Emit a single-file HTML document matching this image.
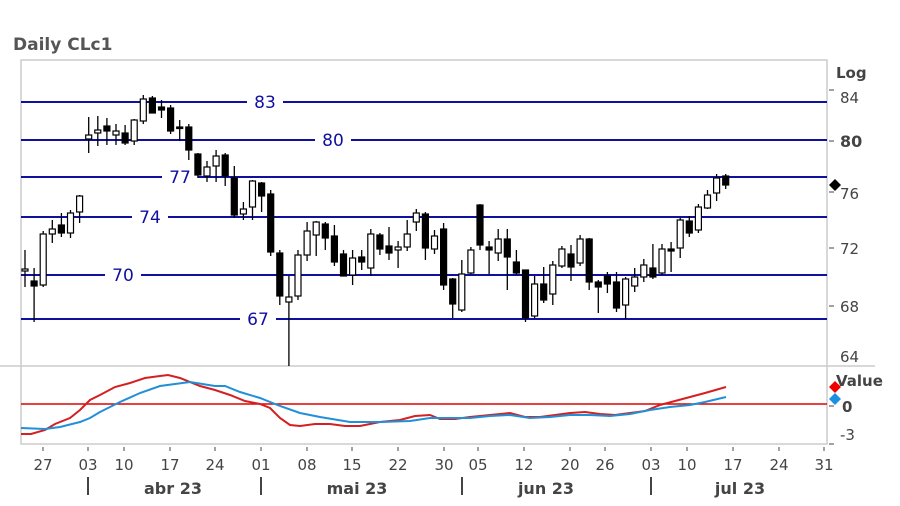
<!DOCTYPE html>
<html><head><meta charset="utf-8"><style>
body{margin:0;background:#fff;}
svg{display:block;font-family:"DejaVu Sans","Liberation Sans",sans-serif;}
</style></head><body>
<svg id="s" width="900" height="506" viewBox="0 0 900 506">
<text x="13" y="50" font-size="17" font-weight="bold" fill="#555">Daily CLc1</text>
<rect x="21" y="60" width="806" height="384" fill="none" stroke="#ccc" stroke-width="1.5"/>
<line x1="0" y1="366" x2="875" y2="366" stroke="#ccc" stroke-width="1.5"/>
<g id="lv" stroke="#1010a0" stroke-width="2"></g>
<g id="c"></g>
<line x1="21" y1="404" x2="827" y2="404" stroke="#d00" stroke-width="1.5"/>
<polyline fill="none" stroke="#d42020" stroke-width="2" points="21,434 31,434 45,430 55,424 70,418 80,410 90,400 100,395 115,387 130,383 145,378 160,376 168,375 180,378 200,386 215,390 230,395 245,401 260,404 270,408 280,418 290,425 300,426 315,424 330,424 345,426 360,426 380,422 400,420 415,416 430,415 440,419 455,419 470,417 490,415 510,413 525,417 540,417 555,415 570,413 585,412 600,414 615,415 630,413 645,411 660,405 675,401 690,397 705,393 726,387"/>
<polyline fill="none" stroke="#2090d8" stroke-width="2" points="21,428 45,429 60,427 80,422 90,418 100,412 120,402 140,393 160,386 190,382 215,386 225,386 240,392 260,398 280,406 300,413 320,417 350,422 380,422 410,421 430,418 450,418 470,418 490,416 510,415 530,418 550,417 570,415 590,415 610,416 630,414 650,410 670,407 690,405 705,402 726,397"/>
<g font-size="15" fill="#444">
<text x="836" y="78" font-weight="bold">Log</text>
<text x="840" y="103">84</text>
<text x="840" y="147" font-weight="bold" font-size="16">80</text>
<text x="840" y="199">76</text>
<text x="840" y="254">72</text>
<text x="840" y="312">68</text>
<text x="840" y="362">64</text>
<text x="836" y="386" font-weight="bold">Value</text>
<text x="842" y="412" font-weight="bold">0</text>
<text x="840" y="440">-3</text>
</g>
<g stroke="#444" stroke-width="1">
<line x1="829" y1="90" x2="834" y2="90"/><line x1="829" y1="141" x2="834" y2="141"/><line x1="829" y1="192" x2="834" y2="192"/><line x1="829" y1="248" x2="834" y2="248"/><line x1="829" y1="306" x2="834" y2="306"/><line x1="829" y1="406" x2="834" y2="406"/><line x1="829" y1="444" x2="834" y2="444"/>
</g>
<path d="M835,179 l6,6 -6,6 -6,-6z" fill="#000"/>
<path d="M835,381 l6,6 -6,6 -6,-6z" fill="#e00"/>
<path d="M835,393 l6,6 -6,6 -6,-6z" fill="#1a90e0"/>
<g id="x" font-size="15" fill="#444" text-anchor="middle"></g>
<g font-size="16" font-weight="bold" fill="#444" text-anchor="middle">
<text x="173" y="494">abr 23</text><text x="357" y="494">mai 23</text><text x="546" y="494">jun 23</text><text x="740" y="494">jul 23</text>
</g>
<g stroke="#444" stroke-width="2">
<line x1="88" y1="477" x2="88" y2="495"/><line x1="261" y1="477" x2="261" y2="495"/><line x1="462" y1="477" x2="462" y2="495"/><line x1="651" y1="477" x2="651" y2="495"/>
</g>
</svg>
<script>
var NS="http://www.w3.org/2000/svg";
function el(t,a,p){var e=document.createElementNS(NS,t);for(var k in a)e.setAttribute(k,a[k]);document.getElementById(p).appendChild(e);return e;}
var L=[[102,"83",265],[140,"80",333],[177,"77",180],[217,"74",150],[275,"70",123],[319,"67",258]];
L.forEach(function(l){
 el("line",{x1:21,y1:l[0],x2:l[2]-18,y2:l[0]},"lv");
 el("line",{x1:l[2]+18,y1:l[0],x2:827,y2:l[0]},"lv");
 var t=el("text",{x:l[2],y:l[0]+6,"font-size":17,fill:"#1010a0","text-anchor":"middle",stroke:"none"},"lv");t.textContent=l[1];
});
var C=[[269,271,250,287,1],[281,286,268,322,0],[234,285,231,287,1],[229,234,220,243,1],[225,233,213,237,0],[213,233,210,238,1],[196,212,195,223,1],
[135,139,117,153,1],[130,133,116,146,1],[126,131,118,145,0],[131,135,124,145,1],[133,143,125,145,0],[120,141,119,145,1],[99,121,95,124,1],[98,113,96,113,0],[107,110,100,118,0],[108,131,105,134,0],[127,128,120,141,0],[127,150,124,160,0],[154,175,153,178,0],[167,176,161,182,1],[156,166,150,182,1],[155,176,153,186,0],[178,215,166,218,0],[209,214,202,220,1],[181,207,180,220,1],[183,196,182,212,0],[194,252,190,256,0],[253,296,250,305,0],[297,302,276,366,1],[255,296,250,300,1],[231,255,222,261,1],[222,235,221,256,1],[224,238,222,250,0],[236,262,225,266,0],[254,276,250,276,0],[258,275,250,285,1],[257,262,250,270,0],[234,268,229,276,1],[235,249,233,255,0],[246,253,227,260,0],[247,250,241,268,1],[234,247,220,251,1],[213,222,209,231,1],[214,248,212,260,0],[236,249,230,254,1],[229,285,223,290,0],[279,304,278,318,0],[274,310,260,312,1],[250,273,247,274,1],[205,245,204,250,0],[247,250,241,274,0],[239,253,229,261,1],[239,257,229,290,0],[262,273,250,275,0],[270,318,270,322,0],[284,316,276,318,1],[284,300,267,303,0],[265,294,261,305,1],[249,266,246,268,1],[254,267,245,281,0],[239,263,235,266,1],[239,282,238,290,0],[282,287,280,313,0],[276,284,272,293,0],[282,308,272,312,0],[279,305,277,319,1],[277,286,268,292,1],[265,277,259,282,1],[268,277,244,279,0],[249,273,244,275,1],[249,251,242,272,0],[220,248,218,258,1],[221,233,216,237,0],[207,230,204,233,1],[195,208,190,209,1],[178,193,174,201,1],[176,185,174,189,0]];
C.forEach(function(c,i){
 var x=25+i*9.1;
 el("line",{x1:x,y1:c[2],x2:x,y2:c[3],stroke:"#000","stroke-width":1.3},"c");
 var h=Math.max(c[1]-c[0],1.5);
 el("rect",{x:x-3,y:c[0],width:6,height:h,fill:c[4]?"#fff":"#000",stroke:"#000","stroke-width":1.2},"c");
});
var X=[[43,"27"],[88,"03"],[124,"10"],[170,"17"],[215,"24"],[261,"01"],[307,"08"],[352,"15"],[398,"22"],[444,"30"],[478,"05"],[524,"12"],[570,"20"],[605,"26"],[651,"03"],[687,"10"],[733,"17"],[779,"24"],[824,"31"]];
X.forEach(function(t){
 el("line",{x1:t[0],y1:447,x2:t[0],y2:451,stroke:"#444","stroke-width":1},"x");
 var e=el("text",{x:t[0],y:470},"x");e.textContent=t[1];
});
</script>
</body></html>
